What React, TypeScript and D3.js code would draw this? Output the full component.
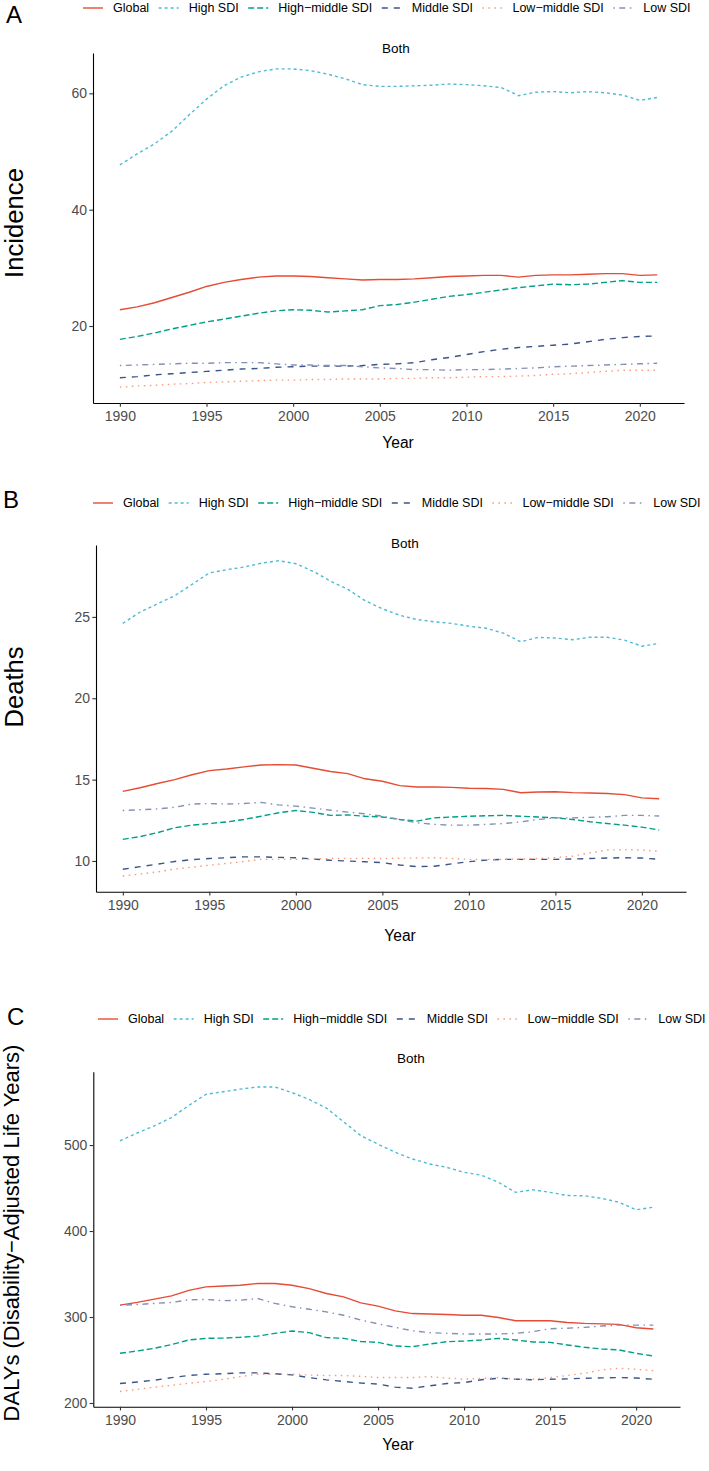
import React, { useEffect, useRef } from 'react';
import * as d3 from 'd3';

// years on the x axis
const years = [
  1990, 1991, 1992, 1993, 1994, 1995, 1996, 1997, 1998, 1999, 2000,
  2001, 2002, 2003, 2004, 2005, 2006, 2007, 2008, 2009, 2010,
  2011, 2012, 2013, 2014, 2015, 2016, 2017, 2018, 2019, 2020, 2021,
];
const xTicks = [1990, 1995, 2000, 2005, 2010, 2015, 2020];

const seriesNames = ['Global', 'High SDI', 'High−middle SDI', 'Middle SDI', 'Low−middle SDI', 'Low SDI'];
const seriesColors = ['#E64B35', '#4DBBD5', '#00A087', '#3C5488', '#F39B7F', '#8491B4'];
// ggplot linetypes: solid, 22, 42, 44, 13, 1343
const seriesDashes = [null, '3,3', '6,3', '6,6', '1.5,4.5', '1.5,4.5,6,4.5'];

// Incidence
const incGlobal = [22.8, 23.3, 24.0, 24.9, 25.8, 26.8, 27.5, 28.0, 28.4, 28.6, 28.6, 28.5, 28.3, 28.1, 27.9, 28.0, 28.0, 28.1, 28.3, 28.5, 28.6, 28.7, 28.7, 28.4, 28.7, 28.8, 28.8, 28.9, 29.0, 29.0, 28.7, 28.8];
const incHigh = [47.7, 49.6, 51.3, 53.5, 56.3, 59.0, 61.3, 62.8, 63.7, 64.2, 64.2, 63.9, 63.3, 62.5, 61.5, 61.2, 61.2, 61.3, 61.4, 61.6, 61.5, 61.3, 61.0, 59.6, 60.2, 60.3, 60.1, 60.3, 60.1, 59.7, 58.8, 59.3];
const incHighMiddle = [17.7, 18.2, 18.8, 19.5, 20.1, 20.7, 21.2, 21.7, 22.2, 22.6, 22.8, 22.7, 22.4, 22.6, 22.8, 23.5, 23.7, 24.1, 24.6, 25.1, 25.4, 25.8, 26.2, 26.6, 26.9, 27.2, 27.1, 27.2, 27.5, 27.8, 27.5, 27.5];
const incMiddle = [11.1, 11.3, 11.6, 11.8, 12.0, 12.2, 12.4, 12.6, 12.7, 12.9, 13.0, 13.1, 13.1, 13.1, 13.2, 13.4, 13.5, 13.7, 14.2, 14.6, 15.1, 15.6, 16.0, 16.3, 16.5, 16.7, 16.9, 17.3, 17.7, 18.0, 18.2, 18.3];
const incLowMiddle = [9.5, 9.7, 9.8, 10.0, 10.1, 10.3, 10.4, 10.5, 10.6, 10.7, 10.7, 10.8, 10.8, 10.9, 10.9, 10.9, 11.0, 11.0, 11.1, 11.1, 11.2, 11.3, 11.3, 11.4, 11.5, 11.7, 11.8, 12.0, 12.2, 12.4, 12.4, 12.4];
const incLow = [13.2, 13.3, 13.4, 13.5, 13.6, 13.6, 13.7, 13.7, 13.7, 13.5, 13.3, 13.3, 13.2, 13.2, 13.0, 12.8, 12.7, 12.5, 12.5, 12.4, 12.5, 12.5, 12.6, 12.7, 12.8, 13.0, 13.1, 13.2, 13.3, 13.4, 13.5, 13.6];

// Deaths
const dthGlobal = [14.28, 14.5, 14.76, 15.0, 15.3, 15.55, 15.65, 15.78, 15.9, 15.92, 15.9, 15.7, 15.5, 15.37, 15.05, 14.9, 14.63, 14.55, 14.55, 14.52, 14.47, 14.45, 14.4, 14.19, 14.24, 14.25, 14.2, 14.18, 14.15, 14.08, 13.88, 13.82];
const dthHigh = [24.6, 25.3, 25.8, 26.3, 27.0, 27.7, 27.9, 28.06, 28.3, 28.45, 28.27, 27.8, 27.2, 26.7, 26.0, 25.5, 25.1, 24.84, 24.7, 24.6, 24.43, 24.3, 24.0, 23.47, 23.74, 23.7, 23.6, 23.75, 23.75, 23.57, 23.2, 23.37];
const dthHighMiddle = [11.33, 11.5, 11.74, 12.04, 12.2, 12.3, 12.4, 12.55, 12.75, 12.96, 13.1, 12.99, 12.8, 12.83, 12.75, 12.7, 12.55, 12.45, 12.65, 12.7, 12.75, 12.78, 12.8, 12.75, 12.7, 12.65, 12.55, 12.41, 12.3, 12.2, 12.08, 11.9];
const dthMiddle = [9.49, 9.65, 9.8, 9.97, 10.08, 10.15, 10.2, 10.25, 10.25, 10.22, 10.2, 10.12, 10.04, 10.0, 9.95, 9.9, 9.75, 9.65, 9.68, 9.82, 9.96, 10.05, 10.1, 10.1, 10.1, 10.1, 10.12, 10.15, 10.18, 10.2, 10.18, 10.1];
const dthLowMiddle = [9.08, 9.2, 9.33, 9.5, 9.62, 9.74, 9.85, 9.97, 10.1, 10.1, 10.1, 10.12, 10.15, 10.16, 10.15, 10.15, 10.17, 10.18, 10.2, 10.15, 10.1, 10.1, 10.1, 10.12, 10.15, 10.2, 10.3, 10.5, 10.67, 10.7, 10.67, 10.6];
const dthLow = [13.1, 13.15, 13.2, 13.3, 13.5, 13.53, 13.5, 13.53, 13.6, 13.45, 13.37, 13.25, 13.12, 13.0, 12.9, 12.75, 12.55, 12.35, 12.25, 12.2, 12.2, 12.25, 12.3, 12.4, 12.55, 12.65, 12.65, 12.68, 12.72, 12.8, 12.8, 12.76];

// DALYs
const dalyGlobal = [313.8, 317, 320.8, 324.6, 331, 335, 336, 337, 339, 339, 337, 333, 327.4, 323.4, 316.5, 312.6, 307.2, 304, 303.5, 303, 302, 302, 299.5, 295.6, 295.6, 295.6, 293.7, 292.6, 292, 291.4, 287.5, 286];
const dalyHigh = [505, 514, 522.4, 532, 546, 559, 562, 565, 567.6, 567.6, 561, 553, 543, 527, 511, 501, 491.5, 483.8, 478, 474, 468.3, 465, 456.7, 445, 448, 445, 441.3, 441, 438, 433.5, 424.7, 427.7];
const dalyHighMiddle = [257.8, 260.5, 263.6, 268, 273.3, 275.2, 275.5, 276.4, 277.8, 281, 283.7, 281.8, 276, 275.2, 271.5, 270.5, 266.3, 265.5, 268.6, 271.3, 272, 273.3, 275.2, 273.3, 271, 270.5, 267.5, 264.8, 262.8, 261.7, 257.8, 254.7];
const dalyMiddle = [222.6, 224.5, 226.5, 229.5, 232, 233.5, 234, 235, 235, 234, 232.7, 229.5, 226.9, 225, 223.2, 222, 218.4, 217.2, 220, 222.6, 223.8, 227, 228.8, 227.7, 227, 227.7, 228, 228.8, 229.2, 229.6, 229, 227.7];
const dalyLowMiddle = [213.4, 215.8, 218.4, 220.5, 223, 225, 227.5, 230.7, 233.5, 233.5, 233.5, 232.5, 232, 232, 231, 229.6, 229.6, 229.6, 230.7, 229, 227.7, 228.5, 229.6, 227.7, 227.7, 229.6, 232, 234.6, 238.5, 240.4, 239.2, 237.6];
const dalyLow = [313.8, 314.5, 315.8, 317, 320, 320.4, 319, 319.6, 321.5, 315.8, 311.9, 309, 306, 302, 296.5, 292, 288, 284, 281.8, 281, 280.3, 280.3, 280.3, 281, 283, 286.4, 287, 288, 289.5, 290.6, 290.6, 290.6];

const incTicks = [20, 40, 60];
const dthTicks = [10, 15, 20, 25];
const dalyTicks = [200, 300, 400, 500];

const FONT = '"Liberation Sans", Arial, sans-serif';

const panels = [
  {
    tag: 'A', tagX: 6, tagY: 22.5, legendX: 83, legendY: 8, bothX: 396, bothY: 48,
    left: 93, right: 684, top: 53, bottom: 403,
    yTitle: 'Incidence', yTitleX: 23, yTitleY: 223, yTitleSize: 25.7, yearX: 398, yearY: 443,
    ticks: incTicks,
    series: [incGlobal, incHigh, incHighMiddle, incMiddle, incLowMiddle, incLow],
  },
  {
    tag: 'B', tagX: 3, tagY: 508, legendX: 93, legendY: 503, bothX: 405, bothY: 543,
    left: 96, right: 686, top: 545, bottom: 891.7,
    yTitle: 'Deaths', yTitleX: 23, yTitleY: 687, yTitleSize: 25.6, yearX: 400, yearY: 936,
    ticks: dthTicks,
    series: [dthGlobal, dthHigh, dthHighMiddle, dthMiddle, dthLowMiddle, dthLow],
  },
  {
    tag: 'C', tagX: 7, tagY: 1025, legendX: 98, legendY: 1019, bothX: 411, bothY: 1058,
    left: 93.3, right: 680, top: 1071.7, bottom: 1406.7,
    yTitle: 'DALYs (Disability−Adjusted Life Years)', yTitleX: 19, yTitleY: 1233, yTitleSize: 22, yearX: 398, yearY: 1445,
    ticks: dalyTicks,
    series: [dalyGlobal, dalyHigh, dalyHighMiddle, dalyMiddle, dalyLowMiddle, dalyLow],
  },
];

// ggplot-like 5% padding on continuous scales
const expand = ([a, b]: number[]) => {
  const pad = (b - a) * 0.05;
  return [a - pad, b + pad];
};

function drawPanel(svg: any, p: any) {
  const g = svg.append('g');

  const x = d3.scaleLinear()
    .domain(expand([years[0], years[years.length - 1]]))
    .range([p.left, p.right]);
  const y = d3.scaleLinear()
    .domain(expand(d3.extent(p.series.flat() as number[]) as number[]))
    .range([p.bottom, p.top]);

  // x axis
  const xAxis = g.append('g')
    .attr('transform', `translate(0,${p.bottom})`)
    .call(d3.axisBottom(x).tickValues(xTicks).tickFormat(d3.format('d')).tickSizeInner(3.7).tickSizeOuter(0).tickPadding(4.3));
  // y axis
  const yAxis = g.append('g')
    .attr('transform', `translate(${p.left},0)`)
    .call(d3.axisLeft(y).tickValues(p.ticks).tickSizeInner(3.7).tickSizeOuter(0).tickPadding(2.2));

  [xAxis, yAxis].forEach(a => {
    a.attr('font-family', FONT).attr('font-size', 14);
    a.select('.domain').attr('stroke', '#000').attr('stroke-width', 1.1);
    a.selectAll('.tick line').attr('stroke', '#333').attr('stroke-width', 1.1);
    a.selectAll('.tick text').attr('fill', '#4D4D4D');
  });

  // series lines
  const line = d3.line<number>()
    .x((_, i) => x(years[i]))
    .y(d => y(d));

  p.series.forEach((vals: number[], i: number) => {
    g.append('path')
      .datum(vals)
      .attr('d', line)
      .attr('fill', 'none')
      .attr('stroke', seriesColors[i])
      .attr('stroke-width', 1.4)
      .attr('stroke-dasharray', seriesDashes[i]);
  });

  // legend across the top
  const leg = g.append('g').attr('font-family', FONT).attr('font-size', 12.5);
  let cx = p.legendX;
  seriesNames.forEach((name, i) => {
    leg.append('line')
      .attr('x1', cx).attr('x2', cx + 20)
      .attr('y1', p.legendY).attr('y2', p.legendY)
      .attr('stroke', seriesColors[i])
      .attr('stroke-width', 1.4)
      .attr('stroke-dasharray', seriesDashes[i]);
    const t = leg.append('text')
      .attr('x', cx + 30).attr('y', p.legendY)
      .attr('dy', '0.35em')
      .attr('fill', '#000')
      .text(name);
    const w = (t.node() as SVGTextElement).getComputedTextLength();
    cx += 30 + w + 9.5;
  });

  // panel tag, subtitle and axis titles
  g.append('text')
    .attr('x', p.tagX).attr('y', p.tagY)
    .attr('font-family', FONT).attr('font-size', 24)
    .text(p.tag);

  g.append('text')
    .attr('x', p.bothX).attr('y', p.bothY)
    .attr('dy', '0.35em')
    .attr('text-anchor', 'middle')
    .attr('font-family', FONT).attr('font-size', 13.5)
    .text('Both');

  g.append('text')
    .attr('x', p.yearX).attr('y', p.yearY)
    .attr('dy', '0.35em')
    .attr('text-anchor', 'middle')
    .attr('font-family', FONT).attr('font-size', 15.6)
    .text('Year');

  g.append('text')
    .attr('transform', `translate(${p.yTitleX},${p.yTitleY}) rotate(-90)`)
    .attr('text-anchor', 'middle')
    .attr('font-family', FONT).attr('font-size', p.yTitleSize)
    .text(p.yTitle);
}

export default function App() {
  const svgRef = useRef<SVGSVGElement>(null);

  useEffect(() => {
    const svg = d3.select(svgRef.current);
    svg.selectAll('*').remove();
    svg.append('rect').attr('width', 709).attr('height', 1471).attr('fill', '#fff');
    panels.forEach(p => drawPanel(svg, p));
  }, []);

  return (
    <svg
      ref={svgRef}
      width={709}
      height={1471}
      style={{ position: 'absolute', left: 0, top: 0, display: 'block' }}
    />
  );
}
